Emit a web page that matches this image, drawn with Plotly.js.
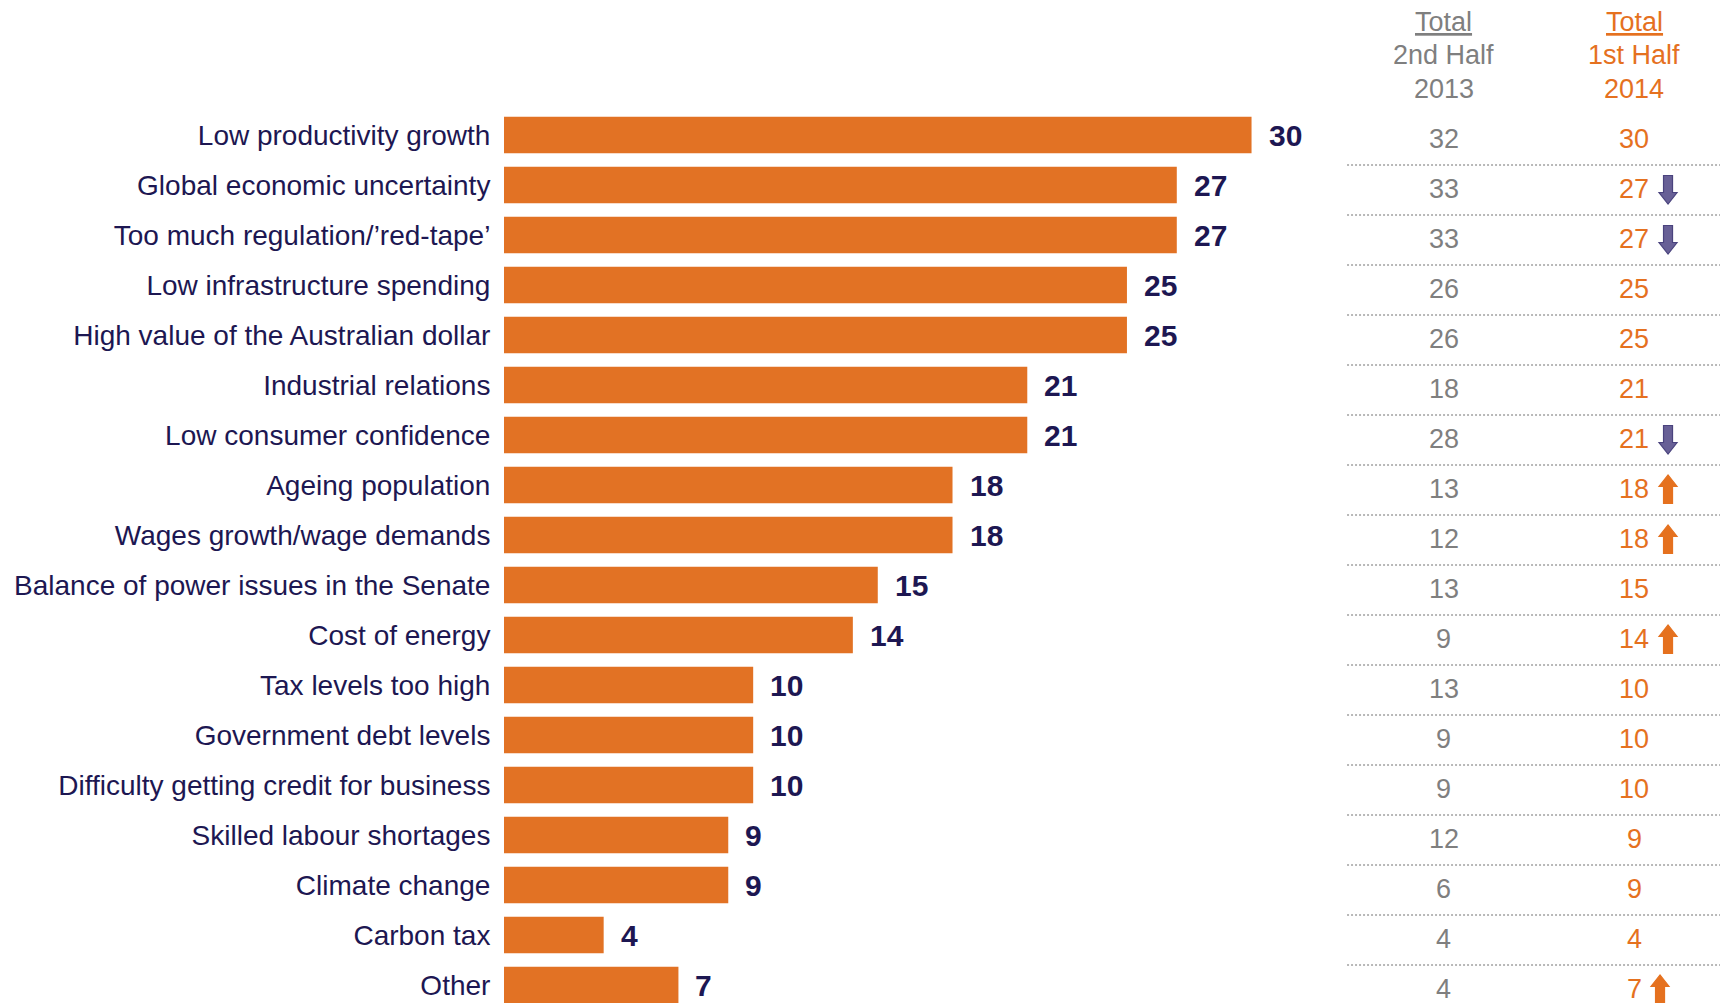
<!DOCTYPE html>
<html>
<head>
<meta charset="utf-8">
<script src="https://cdn.plot.ly/plotly-3.0.1.min.js"></script>
<style>
  html, body { margin: 0; padding: 0; background: #ffffff; }
  #chart { width: 1720px; height: 1003px; }
</style>
</head>
<body>
<div id="chart"></div>
<script>
// ---- data ----
const categories = [
  "Low productivity growth",
  "Global economic uncertainty",
  "Too much regulation/\u2019red-tape\u2019",
  "Low infrastructure spending",
  "High value of the Australian dollar",
  "Industrial relations",
  "Low consumer confidence",
  "Ageing population",
  "Wages growth/wage demands",
  "Balance of power issues in the Senate",
  "Cost of energy",
  "Tax levels too high",
  "Government debt levels",
  "Difficulty getting credit for business",
  "Skilled labour shortages",
  "Climate change",
  "Carbon tax",
  "Other"
];
const values2014 = [30, 27, 27, 25, 25, 21, 21, 18, 18, 15, 14, 10, 10, 10, 9, 9, 4, 7];
const values2013 = [32, 33, 33, 26, 26, 18, 28, 13, 12, 13, 9, 13, 9, 9, 12, 6, 4, 4];
const change = ["", "down", "down", "", "", "", "down", "up", "up", "", "up", "", "", "", "", "", "", "up"];
const header2013 = ["Total", "2nd Half", "2013"];
const header2014 = ["Total", "1st Half", "2014"];

// ---- styles ----
const FONT = "Liberation Sans, Arial, Helvetica, sans-serif";
const NAVY = "#1d1752";
const BAR = "#e27224";
const ORANGE = "#e5711f";
const GREY = "#7f7f7f";
const COL1 = 0.773, COL2 = 0.9293, LINE_X0 = 0.6933;
const ROW_SHIFT = 3.5;
const LINE_SHIFT = 5;

const idx = categories.map((_, i) => i);

const trace = {
  type: "bar",
  orientation: "h",
  x: values2014,
  y: idx,
  marker: { color: BAR, line: { width: 0 } },
  hoverinfo: "skip"
};

const annotations = [];
const shapes = [];

// value labels
values2014.forEach((v, i) => {
  annotations.push({
    x: v, y: i, xref: "x", yref: "y",
    text: "<b>" + v + "</b>", showarrow: false,
    xanchor: "left", yanchor: "middle", xshift: 15,
    font: { family: FONT, size: 30, color: NAVY }
  });
});

// table values
idx.forEach(i => {
  annotations.push({
    x: COL1, y: i, xref: "paper", yref: "y",
    text: String(values2013[i]), showarrow: false,
    xanchor: "center", yanchor: "middle", yshift: -ROW_SHIFT,
    font: { family: FONT, size: 27, color: GREY }
  });
  annotations.push({
    x: COL2, y: i, xref: "paper", yref: "y",
    text: String(values2014[i]), showarrow: false,
    xanchor: "center", yanchor: "middle", yshift: -ROW_SHIFT,
    font: { family: FONT, size: 27, color: ORANGE }
  });
  if (i < idx.length - 1) {
    shapes.push({
      type: "line", xref: "paper", yref: "y",
      x0: LINE_X0, x1: 1,
      ysizemode: "pixel", yanchor: i + 0.5, y0: -LINE_SHIFT, y1: -LINE_SHIFT,
      line: { color: "#b8b8b8", width: 2, dash: "2px,2px" }
    });
  }
  if (change[i]) {
    const digits = String(values2014[i]).length;
    const cx = 18 + digits * 8;
    const cy = -ROW_SHIFT - 1;
    const s = change[i] === "down" ? 1 : -1;
    const pts = [
      [-4.5, 14], [4.5, 14], [4.5, -3], [9, -3], [0, -14.5], [-9, -3], [-4.5, -3]
    ].map(p => (cx + p[0]) + "," + (cy + s * p[1]));
    shapes.push({
      type: "path", xref: "paper", yref: "y",
      xsizemode: "pixel", xanchor: COL2,
      ysizemode: "pixel", yanchor: i,
      path: "M" + pts.join("L") + "Z",
      fillcolor: change[i] === "down" ? "#686096" : ORANGE,
      line: { color: change[i] === "down" ? "#4a437e" : ORANGE, width: 1.2 }
    });
  }
});

// headers
const headerY = [1 - 22 / 1003, 1 - 55.5 / 1003, 1 - 89 / 1003];
header2013.forEach((t, k) => {
  annotations.push({
    x: COL1, y: headerY[k], xref: "paper", yref: "paper",
    text: k === 0 ? "<u>" + t + "</u>" : t, showarrow: false,
    xanchor: "center", yanchor: "middle",
    font: { family: FONT, size: 27, color: GREY }
  });
});
header2014.forEach((t, k) => {
  annotations.push({
    x: COL2, y: headerY[k], xref: "paper", yref: "paper",
    text: k === 0 ? "<u>" + t + "</u>" : t, showarrow: false,
    xanchor: "center", yanchor: "middle",
    font: { family: FONT, size: 27, color: ORANGE }
  });
});

const layout = {
  width: 1720, height: 1003,
  margin: { l: 504, r: 0, t: 0, b: 0, pad: 0 },
  paper_bgcolor: "#ffffff", plot_bgcolor: "#ffffff",
  showlegend: false,
  bargap: 0.267,
  xaxis: { range: [0, 48.8], visible: false, fixedrange: true },
  yaxis: {
    range: [17.36, -2.7],
    tickmode: "array", tickvals: idx, ticktext: categories,
    showgrid: false, zeroline: false, showline: false,
    ticks: "outside", ticklen: 7, tickcolor: "rgba(0,0,0,0)",
    tickfont: { family: FONT, size: 28, color: NAVY },
    automargin: false, fixedrange: true
  },
  annotations: annotations,
  shapes: shapes
};

Plotly.newPlot("chart", [trace], layout, { displayModeBar: false, staticPlot: true });
</script>
</body>
</html>
